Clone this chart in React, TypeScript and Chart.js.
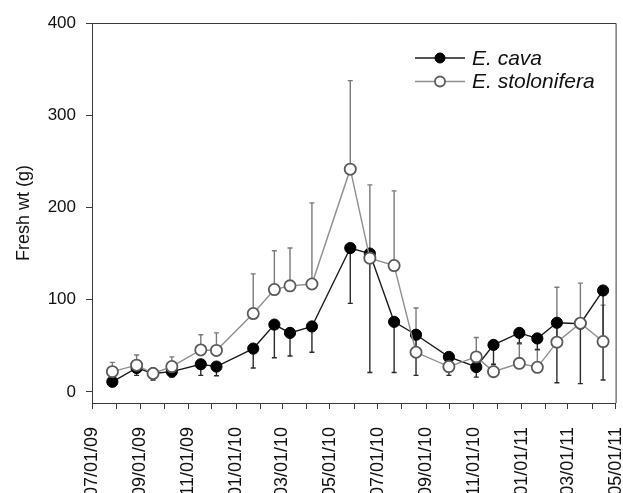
import React, { useEffect, useRef } from 'react';
import { Chart, registerables } from 'chart.js';

Chart.register(...registerables);

// ---- data ----
const SAMPLE_DATES = [
  '07/27/09', '08/27/09', '09/17/09', '10/11/09', '11/17/09', '12/07/09',
  '01/23/10', '02/19/10', '03/11/10', '04/08/10', '05/27/10', '06/21/10',
  '07/22/10', '08/19/10', '09/30/10', '11/04/10', '11/26/10', '12/29/10',
  '01/21/11', '02/15/11', '03/17/11', '04/15/11',
];
const E_CAVA = [11, 26, 20, 22, 30, 27.5, 47, 73, 64, 71, 156, 150, 76, 62, 38, 27, 51, 64, 58, 75, 74, 110];
const E_CAVA_SE = [3, 8, 7, 6, 12, 10, 21, 36, 25, 28, 60, 129, 55, 44, 20, 11, 21, 11, 12, 65, 65, 97];
const E_STOLONIFERA = [22, 29, 20, 27.5, 45.5, 45, 85, 111, 115, 117, 241.5, 145, 137, 43, 27.5, 38, 22, 31, 26.7, 54, 74.5, 54.6];
const E_STOLONIFERA_SE = [10, 11, 6, 10.5, 16.5, 19, 43, 42, 41, 88, 96, 79.5, 81, 48, 10, 21, 6, 21, 19, 59.5, 43.5, 39.5];

const AXIS_START = '07/01/09';
const AXIS_END = '05/01/11';
const MONTH_TICKS = [
  '07/01/09', '08/01/09', '09/01/09', '10/01/09', '11/01/09', '12/01/09',
  '01/01/10', '02/01/10', '03/01/10', '04/01/10', '05/01/10', '06/01/10',
  '07/01/10', '08/01/10', '09/01/10', '10/01/10', '11/01/10', '12/01/10',
  '01/01/11', '02/01/11', '03/01/11', '04/01/11', '05/01/11',
];
const LABELED_TICKS = [
  '07/01/09', '09/01/09', '11/01/09', '01/01/10', '03/01/10', '05/01/10',
  '07/01/10', '09/01/10', '11/01/10', '01/01/11', '03/01/11', '05/01/11',
];
const Y_TICKS = [0, 100, 200, 300, 400];
const Y_MIN = -12;
const Y_MAX = 400;
const SERIES_NAMES = ['E. cava', 'E. stolonifera'];

// ---- helpers ----
const DAY = 86400000;
const parseDate = (s: string) => {
  const [mm, dd, yy] = s.split('/').map(Number);
  return Date.UTC(2000 + yy, mm - 1, dd) / DAY;
};
const ORIGIN = parseDate(AXIS_START);
const toDay = (s: string) => parseDate(s) - ORIGIN;

const FONT = "'Liberation Sans', Arial, Helvetica, sans-serif";
const AXIS_COLOR = '#3a3a3a';

const errorBarPlugin = {
  id: 'errorBars',
  beforeDatasetsDraw(chart: any) {
    const { ctx } = chart;
    const xs = chart.scales.x;
    const ys = chart.scales.y;
    ctx.save();
    chart.data.datasets.forEach((ds: any) => {
      ctx.strokeStyle = ds.errorColor;
      ctx.lineWidth = 1.4;
      ds.data.forEach((pt: any, j: number) => {
        const err = ds.errors[j];
        const px = xs.getPixelForValue(pt.x);
        const p0 = ys.getPixelForValue(pt.y);
        const p1 = ys.getPixelForValue(pt.y + ds.errorDir * err);
        ctx.beginPath();
        ctx.moveTo(px, p0);
        ctx.lineTo(px, p1);
        ctx.moveTo(px - 2.5, p1);
        ctx.lineTo(px + 2.5, p1);
        ctx.stroke();
      });
    });
    ctx.restore();
  },
};

const framePlugin = {
  id: 'frame',
  afterDraw(chart: any) {
    const { ctx, chartArea: a } = chart;
    ctx.save();
    ctx.strokeStyle = AXIS_COLOR;
    ctx.lineWidth = 1;
    ctx.beginPath();
    ctx.moveTo(a.left, a.top + 0.5);
    ctx.lineTo(a.right + 0.5, a.top + 0.5);
    ctx.lineTo(a.right + 0.5, a.bottom);
    ctx.stroke();
    ctx.restore();
  },
};

const legendPlugin = {
  id: 'lineLegend',
  afterDraw(chart: any, _args: any, opts: any) {
    const { ctx } = chart;
    const order = [1, 0];
    ctx.save();
    order.forEach((dsIndex, row) => {
      const ds = chart.data.datasets[dsIndex];
      const y = opts.y + row * opts.rowGap;
      ctx.strokeStyle = ds.borderColor;
      ctx.lineWidth = 1.4;
      ctx.beginPath();
      ctx.moveTo(opts.x, y);
      ctx.lineTo(opts.x + opts.lineLen, y);
      ctx.stroke();
      ctx.beginPath();
      ctx.arc(opts.x + opts.lineLen / 2, y, opts.r, 0, Math.PI * 2);
      ctx.fillStyle = ds.pointBackgroundColor;
      ctx.fill();
      ctx.lineWidth = ds.pointBorderWidth;
      ctx.strokeStyle = ds.pointBorderColor;
      ctx.stroke();
      ctx.fillStyle = '#111';
      ctx.font = `italic ${opts.fontSize}px ${FONT}`;
      ctx.textBaseline = 'middle';
      ctx.textAlign = 'left';
      ctx.fillText(ds.label, opts.x + opts.lineLen + opts.textGap, y + 1);
    });
    ctx.restore();
  },
};

export default function App() {
  const canvasRef = useRef<HTMLCanvasElement | null>(null);

  useEffect(() => {
    const canvas = canvasRef.current;
    if (!canvas) return;
    const xTicks = MONTH_TICKS.map(toDay);
    const labeled = new Set(LABELED_TICKS.map(toDay));
    const labelFor = new Map(LABELED_TICKS.map((s) => [toDay(s), s] as [number, string]));

    const stolo = {
      label: SERIES_NAMES[1],
      data: SAMPLE_DATES.map((d, i) => ({ x: toDay(d), y: E_STOLONIFERA[i] })),
      errors: E_STOLONIFERA_SE,
      errorDir: 1,
      errorColor: '#7a7a7a',
      borderColor: '#8f8f8f',
      borderWidth: 1.4,
      pointBackgroundColor: '#ffffff',
      pointBorderColor: '#5a5a5a',
      pointBorderWidth: 1.8,
      pointRadius: 5.6,
      order: 0,
      tension: 0,
    };
    const cava = {
      label: SERIES_NAMES[0],
      data: SAMPLE_DATES.map((d, i) => ({ x: toDay(d), y: E_CAVA[i] })),
      errors: E_CAVA_SE,
      errorDir: -1,
      errorColor: '#2a2a2a',
      borderColor: '#1a1a1a',
      borderWidth: 1.4,
      pointBackgroundColor: '#000000',
      pointBorderColor: '#000000',
      pointBorderWidth: 1,
      pointRadius: 5.6,
      order: 1,
      tension: 0,
    };

    const chart = new Chart(canvas, {
      type: 'line',
      data: { datasets: [stolo as any, cava as any] },
      options: {
        responsive: false,
        animation: false,
        devicePixelRatio: 1,
        layout: { padding: { top: 23, right: 6, left: 0, bottom: 0 } },
        plugins: {
          legend: { display: false },
          tooltip: { enabled: false },
          lineLegend: { x: 415, y: 58, rowGap: 23.5, lineLen: 50, r: 5, textGap: 7, fontSize: 21 },
        } as any,
        scales: {
          x: {
            type: 'linear',
            min: 0,
            max: toDay(AXIS_END),
            afterBuildTicks: (scale: any) => {
              scale.ticks = xTicks.map((v) => ({ value: v }));
            },
            afterFit: (scale: any) => {
              scale.height = 90;
              scale.paddingLeft = 0;
              scale.paddingRight = 0;
            },
            ticks: {
              autoSkip: false,
              minRotation: 90,
              maxRotation: 90,
              padding: 18,
              color: '#111',
              font: { family: FONT, size: 18 },
              callback: (v: any) => (labeled.has(v) ? labelFor.get(v) : ''),
            },
            grid: {
              display: true,
              drawOnChartArea: false,
              drawTicks: true,
              tickLength: 6,
              color: AXIS_COLOR,
            },
            border: { display: true, color: AXIS_COLOR, width: 1 },
          },
          y: {
            type: 'linear',
            min: Y_MIN,
            max: Y_MAX,
            afterBuildTicks: (scale: any) => {
              scale.ticks = Y_TICKS.map((v) => ({ value: v }));
            },
            afterFit: (scale: any) => {
              scale.width = 92;
              scale.paddingTop = 0;
              scale.paddingBottom = 0;
            },
            ticks: {
              padding: 10,
              color: '#111',
              font: { family: FONT, size: 17 },
            },
            grid: {
              display: true,
              drawOnChartArea: false,
              drawTicks: true,
              tickLength: 6,
              color: AXIS_COLOR,
            },
            border: { display: true, color: AXIS_COLOR, width: 1 },
            title: {
              display: true,
              text: 'Fresh wt (g)',
              color: '#111',
              font: { family: FONT, size: 18 },
              padding: { top: 13, bottom: 0 },
            },
          },
        },
      },
      plugins: [errorBarPlugin, framePlugin, legendPlugin],
    });
    return () => chart.destroy();
  }, []);

  return (
    <div style={{ position: 'absolute', left: 0, top: 0, width: 623, height: 493, background: '#fff' }}>
      <canvas ref={canvasRef} width={623} height={493} />
    </div>
  );
}
